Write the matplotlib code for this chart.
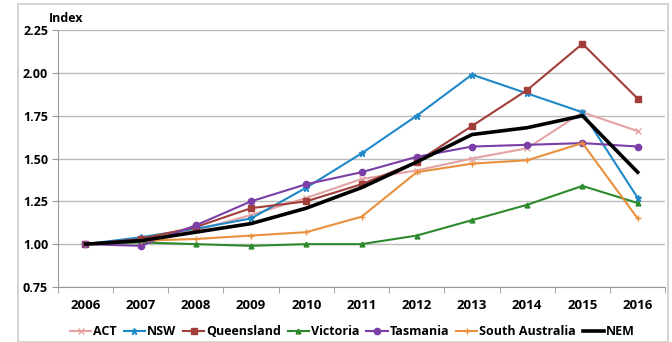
import matplotlib.pyplot as plt
from matplotlib.patches import Rectangle

years = ['2006', '2007', '2008', '2009', '2010', '2011', '2012', '2013', '2014', '2015', '2016']
act = [1.00, 1.03, 1.08, 1.17, 1.27, 1.38, 1.43, 1.50, 1.56, 1.77, 1.66]
nsw = [1.00, 1.04, 1.09, 1.15, 1.33, 1.53, 1.75, 1.99, 1.88, 1.77, 1.27]
qld = [1.00, 1.03, 1.10, 1.21, 1.25, 1.35, 1.48, 1.69, 1.90, 2.17, 1.85]
vic = [1.00, 1.01, 1.00, 0.99, 1.00, 1.00, 1.05, 1.14, 1.23, 1.34, 1.24]
tas = [1.00, 0.99, 1.11, 1.25, 1.35, 1.42, 1.51, 1.57, 1.58, 1.59, 1.57]
sa = [1.00, 1.02, 1.03, 1.05, 1.07, 1.16, 1.42, 1.47, 1.49, 1.59, 1.15]
nem = [1.00, 1.02, 1.07, 1.12, 1.21, 1.33, 1.48, 1.64, 1.68, 1.75, 1.42]

plt.rcParams['font.family'] = ['Open Sans', 'DejaVu Sans']

fig = plt.figure(figsize=(6.72, 3.42), dpi=100)
ax = fig.add_axes([0.086, 0.161, 0.904, 0.751])

x = list(range(len(years)))
ax.plot(x, act, color='#E4A3A3', marker='x', markersize=4, lw=1.5, label='ACT')
ax.plot(x, nsw, color='#1E88C8', marker='*', markersize=5, lw=1.5, label='NSW')
ax.plot(x, qld, color='#A23E3A', marker='s', markersize=4, lw=1.5, label='Queensland')
ax.plot(x, vic, color='#2C8A2C', marker='^', markersize=3.5, lw=1.5, label='Victoria')
ax.plot(x, tas, color='#7A3EA6', marker='o', markersize=4.5, lw=1.5, label='Tasmania')
ax.plot(x, sa, color='#E8903C', marker='+', markersize=5, lw=1.5, label='South Australia')
ax.plot(x, nem, color='black', lw=2.6, label='NEM')

ax.set_xlim(-0.5, len(years) - 0.5)
ax.set_ylim(0.75, 2.25)
ax.set_yticks([0.75, 1.00, 1.25, 1.50, 1.75, 2.00, 2.25])
ax.set_yticklabels(['%.2f' % v for v in ax.get_yticks()], fontsize=9, fontweight='bold')
ax.set_xticks(x)
ax.set_xticklabels(years, fontsize=9.5, fontweight='bold')
ax.tick_params(axis='x', length=0, pad=9)
ax.tick_params(axis='y', length=4, color='#999999', pad=3)
ax.set_xticks([i - 0.5 for i in range(len(years) + 1)], minor=True)
ax.tick_params(axis='x', which='minor', length=4, color='#999999')
ax.grid(axis='y', color='#BBBBBB', lw=1)
ax.set_axisbelow(True)
for s in ['top', 'right']:
    ax.spines[s].set_visible(False)
for s in ['left', 'bottom']:
    ax.spines[s].set_color('#999999')

fig.text(0.072, 0.935, 'Index', fontsize=9, fontweight='bold')

ax.legend(loc='upper center', bbox_to_anchor=(0.485, -0.105), ncol=7, frameon=False,
          prop={'weight': 'bold', 'size': 9}, handlelength=1.7,
          handletextpad=0.15, columnspacing=0.55)

fig.patches.append(Rectangle((0.027, 0.0), 0.967, 0.988, transform=fig.transFigure,
                             fill=False, edgecolor='#CCCCCC', lw=1.2))

fig.savefig('out.png', dpi=100)
